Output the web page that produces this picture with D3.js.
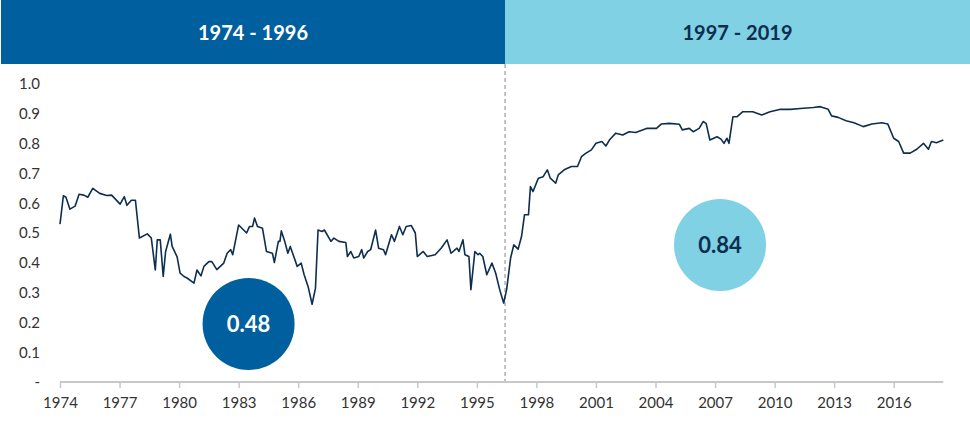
<!DOCTYPE html>
<html><head><meta charset="utf-8">
<script src="https://cdn.jsdelivr.net/npm/d3@7"></script>
<style>body{margin:0;background:#fff}svg{display:block;font-family:Lato,"Open Sans",sans-serif}</style>
</head><body><svg id="c" width="970" height="424"></svg>
<script>
const years=[1974.0,1974.17,1974.3,1974.5,1974.76,1974.96,1975.2,1975.4,1975.65,1976.0,1976.35,1976.6,1977.03,1977.24,1977.37,1977.6,1977.8,1978.0,1978.4,1978.6,1978.8,1978.9,1979.05,1979.2,1979.32,1979.56,1979.65,1979.9,1980.05,1980.25,1980.4,1980.75,1980.9,1981.1,1981.25,1981.5,1981.65,1981.9,1982.25,1982.42,1982.6,1982.7,1983.0,1983.4,1983.55,1983.7,1983.8,1983.95,1984.2,1984.4,1984.7,1984.8,1985.0,1985.08,1985.15,1985.32,1985.48,1985.6,1985.95,1986.15,1986.3,1986.5,1986.7,1986.87,1987.0,1987.2,1987.32,1987.65,1987.8,1988.05,1988.4,1988.48,1988.65,1988.8,1989.05,1989.2,1989.3,1989.5,1989.65,1989.9,1990.05,1990.3,1990.4,1990.7,1990.85,1991.1,1991.27,1991.44,1991.7,1991.9,1992.0,1992.3,1992.5,1992.9,1993.2,1993.5,1993.7,1994.0,1994.1,1994.3,1994.4,1994.6,1994.7,1994.9,1995.06,1995.14,1995.3,1995.5,1995.76,1995.95,1996.15,1996.35,1996.5,1996.7,1996.86,1997.08,1997.25,1997.4,1997.6,1997.7,1997.83,1998.1,1998.34,1998.55,1998.7,1998.97,1999.1,1999.4,1999.76,2000.07,2000.27,2000.5,2000.77,2001.0,2001.3,2001.5,2001.7,2002.0,2002.35,2002.67,2003.0,2003.55,2004.05,2004.3,2004.7,2005.2,2005.35,2005.7,2005.9,2006.2,2006.4,2006.55,2006.74,2007.1,2007.3,2007.45,2007.6,2007.7,2007.9,2008.1,2008.4,2008.9,2009.35,2009.77,2010.3,2010.8,2011.3,2011.95,2012.3,2012.7,2012.87,2013.2,2013.6,2014.0,2014.47,2014.9,2015.4,2015.7,2016.0,2016.25,2016.5,2016.83,2017.16,2017.5,2017.75,2017.9,2018.15,2018.5];
const corr=[0.53,0.625,0.62,0.58,0.59,0.63,0.627,0.62,0.65,0.633,0.626,0.627,0.597,0.622,0.593,0.61,0.61,0.483,0.497,0.483,0.376,0.477,0.477,0.354,0.438,0.496,0.455,0.42,0.365,0.354,0.349,0.332,0.376,0.356,0.388,0.404,0.404,0.377,0.399,0.432,0.444,0.427,0.527,0.5,0.522,0.522,0.55,0.522,0.516,0.438,0.432,0.401,0.472,0.472,0.507,0.472,0.432,0.455,0.388,0.399,0.36,0.32,0.261,0.315,0.51,0.505,0.51,0.472,0.483,0.472,0.468,0.421,0.438,0.416,0.421,0.444,0.416,0.438,0.444,0.51,0.449,0.444,0.427,0.494,0.472,0.522,0.494,0.522,0.525,0.5,0.421,0.438,0.421,0.427,0.449,0.477,0.432,0.449,0.438,0.477,0.427,0.421,0.31,0.438,0.427,0.432,0.421,0.36,0.399,0.365,0.31,0.265,0.31,0.416,0.46,0.446,0.488,0.561,0.561,0.656,0.639,0.684,0.689,0.712,0.684,0.667,0.695,0.712,0.723,0.723,0.756,0.768,0.779,0.801,0.807,0.792,0.814,0.835,0.829,0.84,0.837,0.851,0.851,0.866,0.868,0.865,0.846,0.851,0.84,0.851,0.874,0.868,0.812,0.823,0.815,0.801,0.818,0.801,0.89,0.89,0.907,0.907,0.896,0.907,0.915,0.915,0.918,0.921,0.924,0.915,0.893,0.888,0.877,0.870,0.857,0.866,0.870,0.866,0.818,0.807,0.768,0.768,0.781,0.801,0.781,0.807,0.803,0.812];
const xTicks=[1974,1977,1980,1983,1986,1989,1992,1995,1998,2001,2004,2007,2010,2013,2016];
const yTicks=[0,0.1,0.2,0.3,0.4,0.5,0.6,0.7,0.8,0.9,1.0];
const periods=["1974 - 1996","1997 - 2019"];
const averages=[0.48,0.84];

const svg=d3.select("#c");
const x=d3.scaleLinear().domain([1974,2016]).range([60,893.7]);
const y=d3.scaleLinear().domain([0,1]).range([382,84]);
const split=x(1996.42);
const x0=1, x1=970;
// header
svg.append("rect").attr("x",x0).attr("y",0).attr("width",split-x0).attr("height",64).attr("fill","#005f9e");
svg.append("rect").attr("x",split).attr("y",0).attr("width",x1-split).attr("height",64).attr("fill","#7fd1e3");
svg.append("text").attr("x",(x0+split)/2).attr("y",40).attr("text-anchor","middle").attr("fill","#fff").attr("font-size",20).attr("font-weight",700).text(periods[0]);
svg.append("text").attr("x",(split+x1)/2).attr("y",40).attr("text-anchor","middle").attr("fill","#0d2e4f").attr("font-size",20).attr("font-weight",700).text(periods[1]);
// dashed divider
svg.append("line").attr("x1",split).attr("x2",split).attr("y1",64).attr("y2",382).attr("stroke","#888").attr("stroke-dasharray","4,3").attr("stroke-width",1);
// x axis
const xa=svg.append("g").attr("transform","translate(0,382)").call(d3.axisBottom(x).tickValues(xTicks).tickFormat(d3.format("d")).tickSize(6).tickSizeOuter(0));
xa.select(".domain").attr("stroke","#c8c8c8").attr("stroke-width",2).attr("d",`M60,0H${x(2018.5)}`);
xa.selectAll(".tick line").attr("stroke","#c8c8c8").attr("stroke-width",1.5);
xa.selectAll("text").attr("fill","#333").attr("font-size",15).attr("dy","1.1em").style("font-family","Lato,sans-serif");
// y axis labels
const ya=svg.append("g").attr("transform","translate(40,0)").call(d3.axisLeft(y).tickValues(yTicks).tickFormat(d=>d===0?"-":d.toFixed(1)).tickSize(0));
ya.select(".domain").remove();
ya.selectAll("text").attr("fill","#333").attr("font-size",15).attr("text-anchor","end").attr("x",0).style("font-family","Lato,sans-serif");
// line
const pts=years.map((d,i)=>[d,corr[i]]);
svg.append("path").datum(pts).attr("fill","none").attr("stroke","#0d2e4f").attr("stroke-width",1.6).attr("stroke-linejoin","round")
 .attr("d",d3.line().x(d=>x(d[0])).y(d=>y(d[1])));
// circles
const circ=[{yr:1983.5,v:0.195,fill:"#005f9e",tc:"#fff",t:averages[0]},{yr:2007.25,v:0.46,fill:"#7fd1e3",tc:"#0d2e4f",t:averages[1]}];
circ.forEach(c=>{
 svg.append("circle").attr("cx",x(c.yr)).attr("cy",y(c.v)).attr("r",46).attr("fill",c.fill);
 svg.append("text").attr("x",x(c.yr)).attr("y",y(c.v)+8).attr("text-anchor","middle").attr("fill",c.tc).attr("font-size",22).attr("font-weight",700).text(c.t.toFixed(2));
});
</script></body></html>
